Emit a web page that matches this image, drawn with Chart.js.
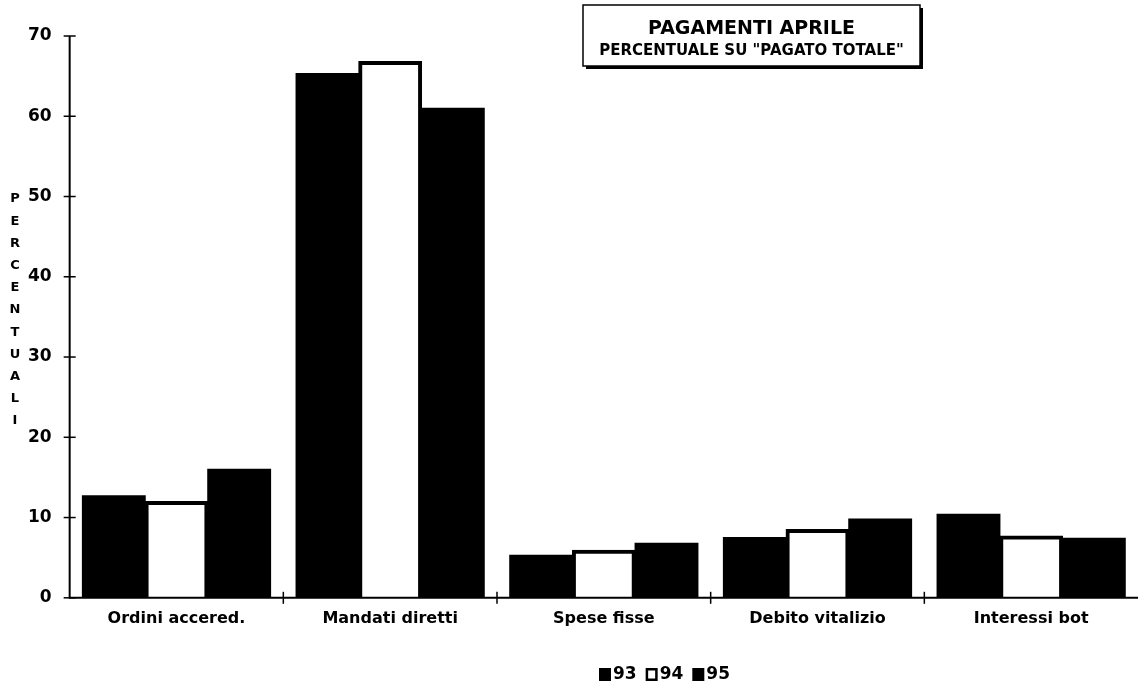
<!DOCTYPE html>
<html>
<head>
<meta charset="utf-8">
<script src="https://cdn.jsdelivr.net/npm/chart.js@4.4.1/dist/chart.umd.min.js"></script>
<style>
  html, body { margin: 0; padding: 0; background: #fff; overflow: hidden; }
  #wrap { position: relative; width: 1138px; height: 691px; }
</style>
</head>
<body>
<div id="wrap"><canvas id="c" width="1138" height="691"></canvas></div>
<script>
// ---- data ----
const categories = ["Ordini accered.", "Mandati diretti", "Spese fisse", "Debito vitalizio", "Interessi bot"];
const seriesLabels = ["93", "94", "95"];
const values93 = [12.7, 65.3, 5.3, 7.5, 10.4];
const values94 = [12.0, 66.8, 5.9, 8.5, 7.7];
const values95 = [16.0, 61.0, 6.8, 9.8, 7.4];
const yTicks = [0, 10, 20, 30, 40, 50, 60, 70];
const titleText = "PAGAMENTI APRILE";
const subtitleText = 'PERCENTUALE SU "PAGATO TOTALE"';
const yAxisTitle = "PERCENTUALI";

const FONT = "'DejaVu Sans', 'Liberation Sans', Arial, sans-serif";
Chart.defaults.font.family = FONT;
Chart.defaults.color = "#000";

const decorPlugin = {
  id: "decor",
  afterDatasetsDraw(chart) {
    const ctx = chart.ctx;
    const ca = chart.chartArea;
    const xs = chart.scales.x, ys = chart.scales.y;
    ctx.save();
    ctx.strokeStyle = "#000";
    ctx.lineWidth = 2;
    // axes
    ctx.beginPath();
    ctx.moveTo(ca.left, ca.top);
    ctx.lineTo(ca.left, ca.bottom);
    ctx.lineTo(ca.right, ca.bottom);
    ctx.stroke();
    ctx.lineWidth = 1.5;
    // y cross ticks
    yTicks.forEach(v => {
      const y = ys.getPixelForValue(v);
      ctx.beginPath();
      ctx.moveTo(ca.left - 6, y);
      ctx.lineTo(ca.left + 6, y);
      ctx.stroke();
    });
    // x category boundary ticks
    const n = categories.length;
    for (let i = 1; i < n; i++) {
      const x = (xs.getPixelForValue(i - 1) + xs.getPixelForValue(i)) / 2;
      ctx.beginPath();
      ctx.moveTo(x, ca.bottom - 6);
      ctx.lineTo(x, ca.bottom + 6);
      ctx.stroke();
    }
    ctx.restore();
  },
  afterDraw(chart) {
    const ctx = chart.ctx;
    ctx.save();
    // y axis title, stacked letters
    ctx.fillStyle = "#000";
    ctx.font = "bold 13px " + FONT;
    ctx.textAlign = "center";
    ctx.textBaseline = "middle";
    const letters = yAxisTitle.split("");
    letters.forEach((ch, i) => ctx.fillText(ch, 15, 199 + i * 22.2));

    // title box with shadow
    const bx = 583, by = 5, bw = 337, bh = 61;
    ctx.fillStyle = "#000";
    ctx.fillRect(bx + 3, by + 3, bw, bh);
    ctx.fillStyle = "#fff";
    ctx.fillRect(bx, by, bw, bh);
    ctx.strokeStyle = "#000";
    ctx.lineWidth = 1.5;
    ctx.strokeRect(bx, by, bw, bh);
    ctx.fillStyle = "#000";
    ctx.font = "bold 19px " + FONT;
    ctx.fillText(titleText, bx + bw / 2, 29);
    ctx.font = "bold 15px " + FONT;
    ctx.fillText(subtitleText, bx + bw / 2, 51);

    // legend
    ctx.font = "bold 17px " + FONT;
    ctx.textAlign = "left";
    let x = 599;
    const ly = 675;
    chart.data.datasets.forEach(ds => {
      const bs = 12;
      ctx.fillStyle = "#000";
      ctx.fillRect(x, ly - 7, bs, 13);
      if (ds.backgroundColor === "#fff") {
        ctx.fillStyle = "#fff";
        ctx.fillRect(x + 2.5, ly - 4.5, bs - 5, 8);
      }
      ctx.fillStyle = "#000";
      ctx.fillText(ds.label, x + bs + 2, ly);
      x += bs + 2 + ctx.measureText(ds.label).width + 9;
    });
    ctx.restore();
  }
};

new Chart(document.getElementById("c"), {
  type: "bar",
  data: {
    labels: categories,
    datasets: [
      { label: seriesLabels[0], data: values93, backgroundColor: "#000", borderWidth: 0, inflateAmount: 0.6 },
      { label: seriesLabels[1], data: values94, backgroundColor: "#fff", borderColor: "#000", borderWidth: 4, inflateAmount: 0.6 },
      { label: seriesLabels[2], data: values95, backgroundColor: "#000", borderWidth: 0, inflateAmount: 0.6 }
    ]
  },
  options: {
    responsive: false,
    animation: false,
    devicePixelRatio: 1,
    layout: { padding: { top: 36, left: 10, right: 0, bottom: 52 } },
    datasets: { bar: { categoryPercentage: 0.88, barPercentage: 1.0 } },
    plugins: { legend: { display: false }, tooltip: { enabled: false }, title: { display: false } },
    scales: {
      x: {
        grid: { display: false, drawTicks: false },
        border: { display: false },
        ticks: { font: { size: 16, weight: "bold" }, color: "#000", padding: 11, maxRotation: 0 }
      },
      y: {
        min: 0, max: 70,
        grid: { display: false, drawTicks: false },
        border: { display: false },
        ticks: { stepSize: 10, font: { size: 17, weight: "bold" }, color: "#000", padding: 18 }
      }
    }
  },
  plugins: [decorPlugin]
});
</script>
</body>
</html>
